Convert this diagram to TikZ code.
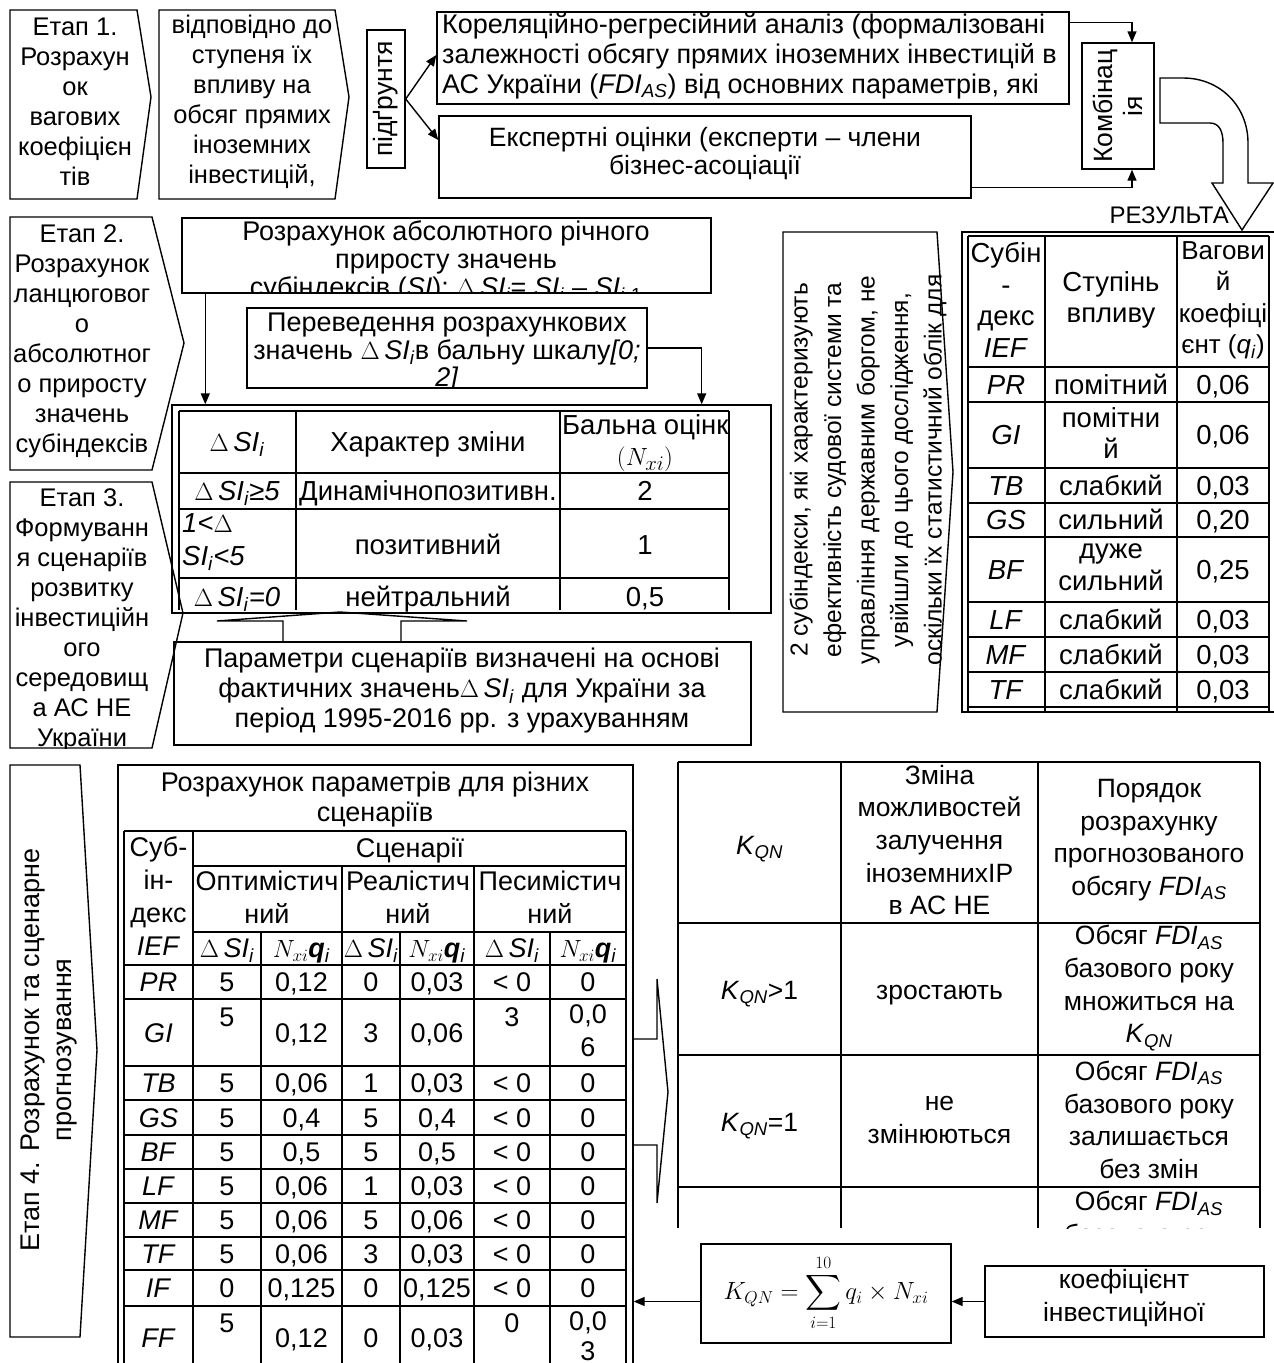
\documentclass[tikz,border=0pt]{standalone}
\usepackage{exscale}
\usepackage{fontspec}
\setmainfont{Liberation Sans}
\usetikzlibrary{arrows.meta,calc}
\newcommand{\dSI}{$\Delta$\,\textit{SI}\textsubscript{\textit{i}}}
\newcommand{\FDIas}{\textit{FDI}\textsubscript{\textit{AS}}}
\newcommand{\KQN}{\textit{K}\textsubscript{\textit{QN}}}
\newcommand{\Nq}{$N_{xi}$\textbf{\textit{q}}\textsubscript{\textit{i}}}
\newcommand{\fs}[2]{\fontsize{#1}{#2}\selectfont}
\begin{document}
\begin{tikzpicture}[x=1pt,y=-1pt,
  ln/.style={line width=1.4pt},
  tb/.style={line width=1.8pt},
  arr/.style={line width=1.4pt,-{Triangle[length=11pt,width=9pt]}},
  tx/.style={font=\fs{26.5}{30}, align=center, inner sep=0pt},
  stg/.style={tx, font=\fs{25.5}{30}},
  tc/.style={tx, text height=19pt, text depth=0pt},
  bx/.style={draw, line width=1.4pt, inner sep=0pt},
]
\useasboundingbox (0,0) rectangle (1274,1363);

% ================= Section 1 =================
\draw[ln] (10,10) -- (137,10) -- (151,97) -- (137,199) -- (10,199) -- cycle;
\node[stg] (s1) at (75,102) {Етап 1.\\Розрахун\\ок\\вагових\\коефіцієн\\тів};
\draw[ln] (159,10) -- (335,10) -- (349,97) -- (335,199) -- (159,199) -- cycle;
\node[stg] (s1b) at (252,102) {відповідно до\\ступеня їх\\впливу на\\обсяг прямих\\іноземних\\інвестицій,};
\node[bx, minimum width=38pt, minimum height=138pt] (pidg) at (386,99) {};
\node[tx, rotate=90] (pidgt) at (pidg) {підґрунтя};
\node[bx, minimum width=632pt, minimum height=92pt] (kor) at (753,58) {};
\node[tx, font=\fs{27}{30}, align=left, anchor=west] (kort) at (442,56) {Кореляційно-регресійний аналіз (формалізовані\\залежності обсягу прямих іноземних інвестицій в\\АС України (\FDIas) від основних параметрів, які};
\node[bx, minimum width=532pt, minimum height=82pt] (exp) at (705,157) {};
\node[tx, font=\fs{26.5}{28}] (expt) at (705,154) {Експертні оцінки (експерти – члени\\бізнес-асоціації};
\draw[arr] (pidg.east) -- ([yshift=3pt]kor.west);
\draw[arr] (pidg.east) -- ([yshift=17pt]exp.west);
\node[bx, minimum width=72pt, minimum height=126pt] (komb) at (1118,106) {};
\node[tx, rotate=90] (kombt) at (komb) {Комбінац\\ія};
\draw[arr] ([yshift=-11pt]kor.north east) -| ([xshift=14pt]komb.north);
\draw[arr] ([yshift=11pt]exp.south east) -| ([xshift=14pt]komb.south);
% U-turn block arrow
\draw[ln] (1160,78) -- (1183,78) .. controls (1220,78) and (1248,106) .. (1248,143) -- (1248,183) -- (1273,183) -- (1242,230) -- (1212,183) -- (1223,183) -- (1223,143) .. controls (1223,131) and (1219,123) .. (1210,123) -- (1160,123) -- cycle;
\node[tx, font=\fs{24}{30}, anchor=east] (rez) at (1229,215) {РЕЗУЛЬТА};

% ================= Section 2 =================
\draw[ln] (10,217) -- (152,217) -- (184,343) -- (152,470) -- (10,470) -- cycle;
\node[stg] (s2) at (82,341) {Етап 2.\\Розрахунок\\ланцюговог\\о\\абсолютног\\о приросту\\значень\\субіндексів};

\node[bx, minimum width=529pt, minimum height=75pt] (ras) at (446.5,255.5) {};
\begin{scope}
\clip (182,218) rectangle (711,293);
\node[tx, font=\fs{27}{28}] (rast) at (446,261) {Розрахунок абсолютного річного\\приросту значень\\субіндексів (\textit{SI}): \dSI = \textit{SI}\textsubscript{\textit{i}} – \textit{SI}\textsubscript{\textit{i}-1}};
\end{scope}

\node[bx, minimum width=400pt, minimum height=80pt] (per) at (447,348) {};
\begin{scope}
\clip (247,308) rectangle (647,388);
\node[tx, font=\fs{27}{27.5}] (pert) at (447,353) {Переведення розрахункових\\значень \dSI{}в бальну шкалу\textit{[0;}\\\textit{2]}};
\end{scope}

\node[bx, minimum width=599pt, minimum height=208pt] (t1f) at (471.5,509) {};
\draw[arr] ([xshift=24pt]ras.south west) -- ([xshift=24pt]ras.south west |- t1f.north);
\draw[arr] (per.east) -| ([xshift=-70pt]t1f.north east);

\foreach \yy in {411,473,509,578} \draw[tb] (179,\yy) -- (729,\yy);
\foreach \xx in {179,296,560,729} \draw[tb] (\xx,411) -- (\xx,610);
\tikzset{t1/.style={tc, font=\fs{27.5}{30}}}
\node[t1] (h1) at (237,442) {\dSI};
\node[t1] (h2) at (428,442) {Характер зміни};
\begin{scope}
\clip (560,411) rectangle (729,473);
\node[tx, font=\fs{27.5}{30}, anchor=north west] (h3) at (562,414) {Бальна оцінка};
\node[tx, font=\fs{27.5}{30}] (h3b) at (645,459) {$(N_{xi})$};
\end{scope}
\node[t1] (r1a) at (237,491) {\dSI\textit{≥5}};
\node[t1] (r1b) at (428,491) {Динамічнопозитивн.};
\node[t1] (r1c) at (645,491) {2};
\node[tx, font=\fs{27.5}{33}, align=left, anchor=west] (r2a) at (182,542) {\textit{1<}$\Delta$\\\textit{SI}\textsubscript{\textit{i}}\textit{<5}};
\node[t1] (r2b) at (428,545) {позитивний};
\node[t1] (r2c) at (645,545) {1};
\node[t1] (r3a) at (237,597) {\dSI\textit{=0}};
\node[t1] (r3b) at (428,597) {нейтральний};
\node[t1] (r3c) at (645,597) {0,5};

% block up arrow
\draw[ln] (217,621) -- (283,621) -- (283,642) -- (401,642) -- (401,621) -- (467,621) -- (340,612) -- cycle;
\node[bx, minimum width=577pt, minimum height=103pt] (par) at (462.5,693.5) {};
\node[tx, font=\fs{27}{30}] (part) at (462,691) {Параметри сценаріїв визначені на основі\\фактичних значень\dSI{} для України за\\період 1995-2016 рр. з урахуванням};

% Stage 3
\draw[ln] (10,482) -- (152,482) -- (183,613) -- (152,748) -- (10,748) -- cycle;
\begin{scope}
\clip (10,482) -- (152,482) -- (183,613) -- (152,748) -- (10,748) -- cycle;
\node[stg] (s3) at (82,620) {Етап 3.\\Формуванн\\я сценаріїв\\розвитку\\інвестиційн\\ого\\середовищ\\а АС НЕ\\України};
\end{scope}

% rotated note chevron
\draw[ln] (783,232) -- (937,232) -- (953,472) -- (937,712) -- (783,712) -- cycle;
\node[tx, rotate=90, font=\fs{24.5}{33.5}] (note) at (868,470) {2 субіндекси, які характеризують\\ефективність судової системи та\\управління державним боргом, не\\увійшли до цього дослідження,\\оскільки їх статистичний облік для};

% results table
\draw[ln] (1290,232) -- (962,232) -- (962,712) -- (1290,712);
\foreach \yy in {236,367,402,468,503,537,602,637,672,707} \draw[tb] (968,\yy) -- (1269,\yy);
\foreach \xx in {968,1045,1177,1269} \draw[tb] (\xx,236) -- (\xx,712);
\tikzset{rt/.style={tc, font=\fs{27.5}{31.5}}, rtm/.style={tx, font=\fs{27.5}{31.5}}}
\node[rtm] (q1) at (1006,300) {Субін\\-\\декс\\\textit{IEF}};
\node[rtm] (q2) at (1111,300) {Ступінь\\впливу};
\node[rtm, font=\fs{26}{31.5}] (q3) at (1223,300) {Вагови\\й\\коефіці\\єнт~(\textit{q}\textsubscript{\textit{i}})};
\foreach \n/\y/\a/\b/\c in {pr/384.5/PR/помітний/{0,06}, tb/485.5/TB/слабкий/{0,03}, gs/520/GS/сильний/{0,20}, lf/619.5/LF/слабкий/{0,03}, mf/654.5/MF/слабкий/{0,03}, tf/689.5/TF/слабкий/{0,03}}{
  \node[rt] (q\n a) at (1006,\y) {\textit{\a}};
  \node[rt] (q\n b) at (1111,\y) {\b};
  \node[rt] (q\n c) at (1223,\y) {\c};
}
\node[rt] (qgia) at (1006,435) {\textit{GI}};
\node[rtm] (qgib) at (1111,433) {помітни\\й};
\node[rt] (qgic) at (1223,435) {0,06};
\node[rt] (qbfa) at (1006,569.5) {\textit{BF}};
\node[rtm] (qbfb) at (1111,567) {дуже\\сильний};
\node[rt] (qbfc) at (1223,569.5) {0,25};

% ================= Section 3 =================
\draw[ln] (10,765) -- (80,765) -- (97,1050) -- (80,1337) -- (10,1337) -- cycle;
\node[tx, rotate=90, font=\fs{27}{32}] (s4) at (49,1050) {Етап 4. Розрахунок та сценарне\\прогнозування};

\node[bx, minimum width=515pt, minimum height=615pt] (sf) at (375.5,1072.5) {};
\node[tx, font=\fs{27}{30}] (st) at (375,800) {Розрахунок параметрів для різних\\сценаріїв};
\draw[tb] (124,831) -- (626,831);
\draw[tb] (193,866) -- (626,866);
\draw[tb] (193,932) -- (626,932);
\foreach \yy in {965,999,1066,1100,1135,1169,1203,1237,1270,1306} \draw[tb] (124,\yy) -- (626,\yy);
\foreach \xx in {124,193,626} \draw[tb] (\xx,831) -- (\xx,1370);
\foreach \xx in {342,474} \draw[tb] (\xx,866) -- (\xx,1370);
\foreach \xx in {261,400,550} \draw[tb] (\xx,932) -- (\xx,1370);
\tikzset{sc/.style={tc, font=\fs{27}{33}}, scm/.style={tx, font=\fs{27}{33}}}
\node[scm] (sh1) at (158.5,896) {Суб-\\ін-\\декс\\\textit{IEF}};
\node[sc] (sh2) at (410,848) {Сценарії};
\node[scm] (sh3) at (267,897) {Оптимістич\\ний};
\node[scm] (sh4) at (408,897) {Реалістич\\ний};
\node[scm] (sh5) at (550,897) {Песимістич\\ний};
\node[sc] (sh6) at (227,948) {\dSI};
\node[sc] (sh7) at (301.5,948) {\Nq};
\node[sc] (sh8) at (371,948) {\dSI};
\node[sc] (sh9) at (437,948) {\Nq};
\node[sc] (sh10) at (512,948) {\dSI};
\node[sc] (sh11) at (588,948) {\Nq};
\foreach \n/\y/\a/\b/\c/\d/\e/\f/\g in {pr/982/PR/5/{0,12}/0/{0,03}/{< 0}/0, tb/1083/TB/5/{0,06}/1/{0,03}/{< 0}/0, gs/1117.5/GS/5/{0,4}/5/{0,4}/{< 0}/0, bf/1152/BF/5/{0,5}/5/{0,5}/{< 0}/0, lf/1186/LF/5/{0,06}/1/{0,03}/{< 0}/0, mf/1220/MF/5/{0,06}/5/{0,06}/{< 0}/0, tf/1253.5/TF/5/{0,06}/3/{0,03}/{< 0}/0, if/1288/IF/0/{0,125}/0/{0,125}/{< 0}/0}{
  \node[sc] (d\n a) at (158.5,\y) {\textit{\a}};
  \node[sc] (d\n b) at (227,\y) {\b};
  \node[sc] (d\n c) at (301.5,\y) {\c};
  \node[sc] (d\n d) at (371,\y) {\d};
  \node[sc] (d\n e) at (437,\y) {\e};
  \node[sc] (d\n f) at (512,\y) {\f};
  \node[sc] (d\n g) at (588,\y) {\g};
}
\node[sc] (dgia) at (158.5,1033) {\textit{GI}};
\node[sc] (dgib) at (227,1017) {5};
\node[sc] (dgic) at (301.5,1033) {0,12};
\node[sc] (dgid) at (371,1033) {3};
\node[sc] (dgie) at (437,1033) {0,06};
\node[sc] (dgif) at (512,1017) {3};
\node[scm] (dgig) at (588,1031) {0,0\\6};
\node[sc] (dffa) at (158.5,1338) {\textit{FF}};
\node[sc] (dffb) at (227,1323) {5};
\node[sc] (dffc) at (301.5,1338) {0,12};
\node[sc] (dffd) at (371,1338) {0};
\node[sc] (dffe) at (437,1338) {0,03};
\node[sc] (dfff) at (512,1323) {0};
\node[tx, font=\fs{27}{30}] (dffg) at (588,1336) {0,0\\3};

% chevron to right table
\draw[ln] (633,1039) -- (657,1039) -- (657,979) -- (668,1092) -- (657,1203) -- (657,1145) -- (633,1145);

% right table
\foreach \yy in {762,923,1055,1187} \draw[tb] (678,\yy) -- (1260,\yy);
\foreach \xx in {678,841,1038,1260} \draw[tb] (\xx,762) -- (\xx,1228);
\tikzset{kt/.style={tc, font=\fs{26.5}{32.7}}, ktm/.style={tx, font=\fs{26.5}{32.7}}}
\node[kt] (k1) at (759.5,845) {\KQN};
\node[ktm] (k2) at (939.5,840) {Зміна\\можливостей\\залучення\\іноземнихIP\\в АС НЕ};
\node[ktm] (k3) at (1149,840) {Порядок\\розрахунку\\прогнозованого\\обсягу \FDIas};
\node[kt] (k4) at (759.5,990) {\KQN>1};
\node[kt] (k5) at (939.5,990) {зростають};
\node[ktm] (k6) at (1149,988) {Обсяг \FDIas\\базового року\\множиться на\\\KQN};
\node[kt] (k7) at (759.5,1122) {\KQN=1};
\node[ktm] (k8) at (939.5,1120) {не\\змінюються};
\node[ktm] (k9) at (1149,1120) {Обсяг \FDIas\\базового року\\залишається\\без змін};
\begin{scope}
\clip (1038,1187) rectangle (1260,1228);
\node[ktm] (k10) at (1149,1220) {Обсяг \FDIas\\базового року};
\end{scope}

% formula and coefficient
\node[bx, minimum width=250pt, minimum height=99pt] (form) at (826,1293.5) {};
\node[inner sep=0pt, font=\fs{25}{30}] (formt) at (826,1293) {$\displaystyle K_{QN}=\sum_{i=1}^{10} q_i\times N_{xi}$};
\node[bx, minimum width=279pt, minimum height=71pt] (koef) at (1124.5,1301.5) {};
\node[tx, font=\fs{26.5}{33}] (koeft) at (1124,1298) {коефіцієнт\\інвестиційної};
\draw[arr] (koef.west) -- (koef.west -| form.east);
\draw[arr] (koef.west -| form.west) -- (koef.west -| sf.east);
\end{tikzpicture}
\end{document}
